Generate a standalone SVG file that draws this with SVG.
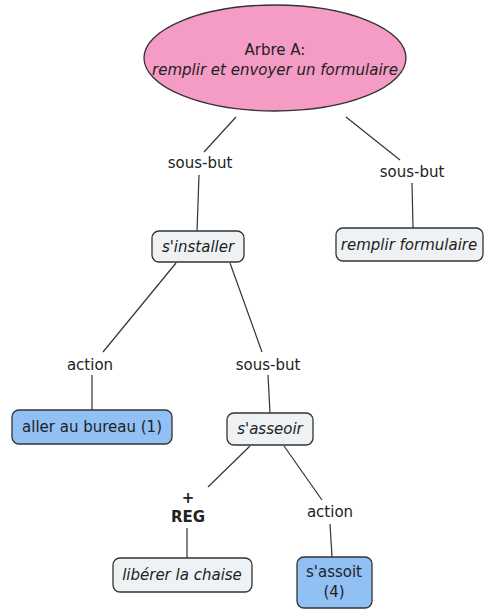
<svg xmlns="http://www.w3.org/2000/svg" width="486" height="609" viewBox="0 0 486 609">
<style>
text{font-family:"DejaVu Sans","Verdana",sans-serif;font-size:15px;fill:#222;text-anchor:middle}
.it{font-style:italic}
.b{font-weight:bold}
.light{fill:#eef2f4;stroke:#333;stroke-width:1.3}
.blue{fill:#90c0f4;stroke:#333;stroke-width:1.3}
#connectors line{stroke:#333;stroke-width:1.2}
</style>
<rect width="486" height="609" fill="#fff"/>
<g id="connectors">
<line x1="236" y1="117" x2="204" y2="152"/>
<line x1="199" y1="175" x2="197" y2="231"/>
<line x1="346" y1="117" x2="400" y2="160"/>
<line x1="412" y1="183" x2="413" y2="228"/>
<line x1="176" y1="263" x2="103" y2="352"/>
<line x1="92" y1="375" x2="92" y2="410"/>
<line x1="230" y1="263" x2="262" y2="352"/>
<line x1="268" y1="375" x2="270" y2="413"/>
<line x1="250" y1="446" x2="208" y2="487"/>
<line x1="187" y1="528" x2="187" y2="558"/>
<line x1="284" y1="446" x2="322" y2="500"/>
<line x1="330" y1="524" x2="332" y2="557"/>
</g>
<g id="root">
<ellipse cx="275" cy="58" rx="131" ry="53" fill="#f49bc6" stroke="#333" stroke-width="1.3"/>
<text x="275" y="55">Arbre A:</text>
<text x="275" y="75" class="it">remplir et envoyer un formulaire</text>
</g>
<g id="lbl-sousbut1"><text x="200" y="168">sous-but</text></g>
<g id="lbl-sousbut2"><text x="412" y="177">sous-but</text></g>
<g id="installer">
<rect x="152" y="231" width="92" height="31" rx="7" class="light"/>
<text x="198" y="252" class="it">s'installer</text>
</g>
<g id="remplir">
<rect x="336" y="228" width="147" height="33" rx="7" class="light"/>
<text x="409" y="250" class="it">remplir formulaire</text>
</g>
<g id="lbl-action1"><text x="90" y="370">action</text></g>
<g id="lbl-sousbut3"><text x="268" y="370">sous-but</text></g>
<g id="bureau">
<rect x="12" y="410" width="160" height="34" rx="7" class="blue"/>
<text x="92" y="432">aller au bureau (1)</text>
</g>
<g id="asseoir">
<rect x="227" y="413" width="86" height="32" rx="7" class="light"/>
<text x="270" y="434" class="it">s'asseoir</text>
</g>
<g id="lbl-reg">
<text x="188" y="503" class="b">+</text>
<text x="188" y="522" class="b">REG</text>
</g>
<g id="lbl-action2"><text x="330" y="517">action</text></g>
<g id="liberer">
<rect x="113" y="558" width="139" height="34" rx="7" class="light"/>
<text x="182" y="580" class="it">libérer la chaise</text>
</g>
<g id="assoit">
<rect x="297" y="557" width="75" height="51" rx="7" class="blue"/>
<text x="334" y="577">s'assoit</text>
<text x="334" y="597">(4)</text>
</g>
</svg>
